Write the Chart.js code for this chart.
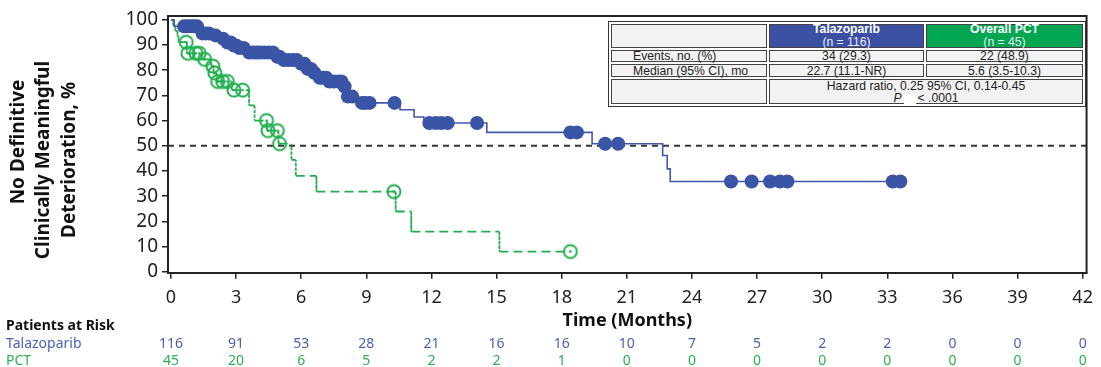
<!DOCTYPE html>
<html>
<head>
<meta charset="utf-8">
<script src="https://cdn.jsdelivr.net/npm/chart.js@4/dist/chart.umd.min.js"></script>
<style>
  html, body { margin: 0; padding: 0; background: #fff; }
  #wrap { position: relative; width: 1101px; height: 367px; }
  canvas { display: block; }
  .stat { position: absolute; box-sizing: border-box; font-family: "Liberation Sans", Arial, sans-serif; font-size: 12.2px; color: #222; }
  .frame { border: 1px solid #333; background: #fff; }
  .cell { border: 1px solid #444; background: #f2f2f2; display: flex; flex-direction: column; justify-content: center; align-items: center; line-height: 12px; white-space: nowrap; }
  .cell.lab { align-items: flex-start; padding-left: 21px; }
  .cell.tala { background: #3b50a3; color: #fff; line-height: 13px; }
  .cell.pct { background: #00a651; color: #fff; line-height: 13px; }
  .cell .n { color: #e9ecf6; }
  .blank { display: inline-block; width: 12px; height: 10px; background: #fff; vertical-align: middle; margin: 0 2px; }
</style>
</head>
<body>
<div id="wrap">
  <canvas id="km" width="1101" height="367"></canvas>
  <div class="stat frame" style="left:608px;top:21px;width:478px;height:86px;"></div>
  <div class="stat cell" style="left:611px;top:24px;width:156px;height:24px;"></div>
  <div class="stat cell tala" style="left:769px;top:24px;width:155px;height:24px;"><b>Talazoparib</b><span class="n">(n = 116)</span></div>
  <div class="stat cell pct" style="left:926px;top:24px;width:157px;height:24px;"><b>Overall PCT</b><span class="n">(n = 45)</span></div>
  <div class="stat cell lab" style="left:611px;top:50px;width:156px;height:12px;">Events, no. (%)</div>
  <div class="stat cell" style="left:769px;top:50px;width:155px;height:12px;">34 (29.3)</div>
  <div class="stat cell" style="left:926px;top:50px;width:157px;height:12px;">22 (48.9)</div>
  <div class="stat cell lab" style="left:611px;top:64px;width:156px;height:13px;">Median (95% CI), mo</div>
  <div class="stat cell" style="left:769px;top:64px;width:155px;height:13px;">22.7 (11.1-NR)</div>
  <div class="stat cell" style="left:926px;top:64px;width:157px;height:13px;">5.6 (3.5-10.3)</div>
  <div class="stat cell" style="left:611px;top:79px;width:156px;height:25px;"></div>
  <div class="stat cell" style="left:769px;top:79px;width:314px;height:25px;padding-top:1px;line-height:12.5px;"><span>Hazard ratio, 0.25 95% CI, 0.14-0.45</span><span><i>P</i><span class="blank"></span>&lt; .0001</span></div>
</div>
<script>
// Axis ticks
const xTicks = [0, 3, 6, 9, 12, 15, 18, 21, 24, 27, 30, 33, 36, 39, 42];
const yTicks = [0, 10, 20, 30, 40, 50, 60, 70, 80, 90, 100];

// Talazoparib: event times (months) with the survival level after each drop, and censor times
const talaEventTimes  = [0.15, 1.3, 1.95, 2.25, 2.52, 2.82, 3.08, 3.52, 4.8, 5.08, 5.92, 6.22, 6.52, 6.78, 7.22, 7.92, 8.08, 8.55, 10.55, 11.2, 11.65, 14.55, 19.4, 22.65, 22.86, 23.0];
const talaEventValues = [97.4, 94.6, 93.8, 92.5, 91.0, 89.8, 88.8, 87.0, 85.3, 84.0, 82.5, 80.5, 79.0, 77.0, 75.5, 73.5, 69.5, 67.0, 64.3, 61.4, 59.0, 55.3, 50.8, 46.1, 40.8, 35.8];
const talaCensorTimes = [0.6, 0.75, 0.9, 1.05, 1.2, 1.45, 1.6, 1.75, 2.05, 2.4, 2.6, 2.75, 2.9, 3.0, 3.15, 3.35,
  3.6, 3.8, 3.95, 4.1, 4.3, 4.5, 4.7, 4.9, 5.0, 5.2, 5.4, 5.6, 5.8, 6.0, 6.15, 6.3, 6.45, 6.6, 6.85, 7.0, 7.15,
  7.3, 7.5, 7.7, 7.85, 8.0, 8.15, 8.35, 8.8, 8.95, 9.15, 10.3, 11.9, 12.2, 12.45, 12.75, 14.1, 18.4, 18.7,
  20.0, 20.6, 25.8, 26.75, 27.6, 28.05, 28.4, 33.25, 33.6];

// Overall PCT
const pctEventTimes  = [0.1, 0.2, 0.3, 0.35, 0.73, 1.4, 1.85, 1.96, 2.1, 2.8, 3.6, 3.85, 4.42, 4.95, 5.55, 5.75, 6.7, 10.35, 11.07, 15.13];
const pctEventValues = [97.8, 95.6, 93.3, 91.1, 86.7, 84.3, 81.6, 78.9, 75.5, 72.1, 66.0, 60.0, 56.0, 50.8, 44.4, 38.0, 31.8, 23.9, 15.9, 8.0];
const pctCensorTimes = [0.7, 0.78, 1.15, 1.3, 1.55, 1.93, 2.02, 2.15, 2.38, 2.6, 2.9, 3.3, 4.4, 4.47, 4.9, 5.0, 10.27, 18.4];

// Patients at risk at each x tick
const riskTala = [116, 91, 53, 28, 21, 16, 16, 10, 7, 5, 2, 2, 0, 0, 0];
const riskPct  = [45, 20, 6, 5, 2, 2, 1, 0, 0, 0, 0, 0, 0, 0, 0];

const medianLine = 50;

const BLUE = '#3a54a6', BLUE_LINE = '#4159ab', GREEN = '#1fae4c';
const FONT = '"Noto Sans", "DejaVu Sans", sans-serif';

function stepPath(times, values, end) {
  const pts = [{x: 0, y: 100}];
  let v = 100;
  times.forEach((t, i) => { pts.push({x: t, y: v}); v = values[i]; pts.push({x: t, y: v}); });
  pts.push({x: end, y: v});
  return pts;
}
function levelAt(times, values, t) {
  let v = 100;
  times.forEach((e, i) => { if (e <= t) v = values[i]; });
  return v;
}
function censorPoints(times, values, cens) {
  return cens.map(t => ({x: t, y: levelAt(times, values, t)}));
}

// open circle with a centre dot for PCT censoring
const ring = document.createElement('canvas');
ring.width = 18; ring.height = 18;
(function () {
  const c = ring.getContext('2d');
  c.strokeStyle = GREEN; c.lineWidth = 2;
  c.beginPath(); c.arc(9, 9, 6.5, 0, Math.PI * 2); c.stroke();
  c.fillStyle = GREEN;
  c.beginPath(); c.arc(9, 9, 1.3, 0, Math.PI * 2); c.fill();
})();

const X_MIN = -0.138, X_MAX = 42.18;

const framePlugin = {
  id: 'frame',
  afterDraw(chart) {
    const {ctx, chartArea: a} = chart;
    ctx.save();
    ctx.strokeStyle = '#222'; ctx.lineWidth = 2;
    ctx.beginPath();
    ctx.moveTo(a.left, a.top); ctx.lineTo(a.right, a.top); ctx.lineTo(a.right, a.bottom);
    ctx.stroke();
    ctx.restore();
  }
};

const yTitlePlugin = {
  id: 'ytitle',
  afterDraw(chart) {
    const ctx = chart.ctx;
    const lines = [['No Definitive', 19, 142], ['Clinically Meaningful', 44, 160], ['Deterioration, %', 70, 160]];
    ctx.save();
    ctx.font = 'bold 19px ' + FONT;
    ctx.fillStyle = '#111';
    ctx.textAlign = 'center';
    ctx.textBaseline = 'middle';
    lines.forEach(([txt, x, y]) => {
      ctx.save(); ctx.translate(x, y); ctx.rotate(-Math.PI / 2); ctx.fillText(txt, 0, 0); ctx.restore();
    });
    ctx.restore();
  }
};

const riskPlugin = {
  id: 'risk',
  afterDraw(chart) {
    const ctx = chart.ctx, xs = chart.scales.x;
    ctx.save();
    ctx.textBaseline = 'middle';
    ctx.textAlign = 'left';
    ctx.font = 'bold 14px ' + FONT; ctx.fillStyle = '#111';
    ctx.fillText('Patients at Risk', 6, 326);
    ctx.font = '14px ' + FONT;
    ctx.fillStyle = '#4a62b4'; ctx.fillText('Talazoparib', 6, 344);
    ctx.fillStyle = '#2bb052'; ctx.fillText('PCT', 6, 361);
    ctx.textAlign = 'center';
    xTicks.forEach((t, i) => {
      const px = xs.getPixelForValue(t);
      ctx.fillStyle = '#4a62b4'; ctx.fillText(String(riskTala[i]), px, 344);
      ctx.fillStyle = '#2bb052'; ctx.fillText(String(riskPct[i]), px, 361);
    });
    ctx.restore();
  }
};

new Chart(document.getElementById('km'), {
  type: 'line',
  data: {
    datasets: [
      {
        label: 'Talazoparib censored', type: 'scatter', order: 0,
        data: censorPoints(talaEventTimes, talaEventValues, talaCensorTimes),
        pointRadius: 7, pointBackgroundColor: BLUE, pointBorderWidth: 0, showLine: false
      },
      {
        label: 'Talazoparib', order: 1,
        data: stepPath(talaEventTimes, talaEventValues, talaCensorTimes[talaCensorTimes.length - 1]),
        borderColor: BLUE_LINE, borderWidth: 1.6, pointRadius: 0, fill: false, tension: 0
      },
      {
        label: 'PCT censored', type: 'scatter', order: 2,
        data: censorPoints(pctEventTimes, pctEventValues, pctCensorTimes),
        pointStyle: ring, pointRadius: 9, showLine: false
      },
      {
        label: 'Overall PCT', order: 3,
        data: stepPath(pctEventTimes, pctEventValues, pctCensorTimes[pctCensorTimes.length - 1]),
        borderColor: GREEN, borderWidth: 1.8, pointRadius: 0, fill: false, tension: 0,
        segment: {
          borderDash: c => (c.p0.parsed.x === c.p1.parsed.x ? [2, 2.5] : [9, 5])
        }
      },
      {
        label: 'Median', order: 4,
        data: [{x: X_MIN, y: medianLine}, {x: X_MAX, y: medianLine}],
        borderColor: '#333', borderWidth: 1.8, borderDash: [6, 5], pointRadius: 0, fill: false
      }
    ]
  },
  options: {
    responsive: false,
    animation: false,
    devicePixelRatio: 1,
    events: [],
    layout: { padding: { top: 16, right: 12, left: 0, bottom: 0 } },
    plugins: { legend: { display: false }, tooltip: { enabled: false } },
    scales: {
      x: {
        type: 'linear', min: X_MIN, max: X_MAX,
        afterBuildTicks: s => { s.ticks = xTicks.map(v => ({value: v})); },
        afterFit: s => { s.height = 94.3; },
        ticks: { font: { family: FONT, size: 18 }, color: '#222', padding: 8, maxRotation: 0, autoSkip: false },
        grid: { drawOnChartArea: false, tickLength: 6, color: '#222', lineWidth: 1.5 },
        border: { color: '#222', width: 2 },
        title: { display: true, text: 'Time (Months)', font: { family: FONT, size: 18, weight: 'bold' }, color: '#111', padding: { top: 0, bottom: 35 } }
      },
      y: {
        type: 'linear', min: -0.4, max: 101.5,
        afterBuildTicks: s => { s.ticks = yTicks.map(v => ({value: v})); },
        afterFit: s => { s.width = 168; },
        ticks: { font: { family: FONT, size: 19 }, color: '#222', padding: 4, autoSkip: false },
        grid: { drawOnChartArea: false, tickLength: 6, color: '#222', lineWidth: 1.5 },
        border: { color: '#222', width: 2 }
      }
    }
  },
  plugins: [framePlugin, yTitlePlugin, riskPlugin]
});
</script>
</body>
</html>
